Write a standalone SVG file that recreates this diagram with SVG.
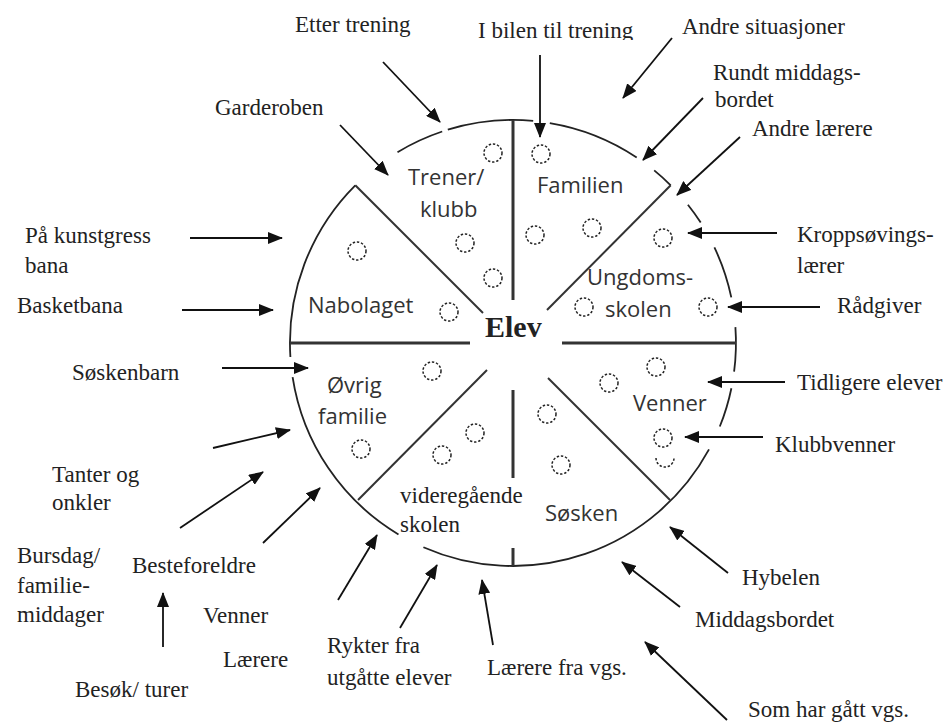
<svg xmlns="http://www.w3.org/2000/svg" width="944" height="722" viewBox="0 0 944 722">
<style>
.c{fill:none;stroke:#222;stroke-width:1.8}
.dv{stroke:#333;stroke-width:3;fill:none}
.dg{stroke:#333;stroke-width:2;fill:none}
.dot{fill:none;stroke:#222;stroke-width:1.5;stroke-dasharray:2.4 1.8}
.ser{font-family:"Liberation Serif","Times New Roman",serif;font-size:23px;fill:#222}
.sans{font-family:"Open Sans","Noto Sans",sans-serif;font-size:22px;fill:#333}
.bold{font-family:"Liberation Serif","Times New Roman",serif;font-size:30px;font-weight:bold;fill:#222}
.arr{stroke:#111;stroke-width:1.8;fill:none;marker-end:url(#ah)}
</style>
<defs>
<marker id="ah" markerWidth="15" markerHeight="12" refX="14" refY="6" orient="auto" markerUnits="userSpaceOnUse">
<path d="M0,0 L15,6 L0,12 z" fill="#111"/>
</marker>
<clipPath id="clipBilen"><rect x="470" y="0" width="190" height="40"/></clipPath>
</defs>
<rect width="944" height="722" fill="#fff"/>

<g id="circle">
<path class="c" d="M709,449.4 A223,223 0 0 1 423.4,547.2"/>
<path class="c" d="M398.5,534.4 A223,223 0 0 1 292.6,377.1"/>
<path class="c" d="M290.4,357 A223,223 0 0 1 355.3,185.3"/>
<path class="c" d="M397.5,152.2 A223,223 0 0 1 442.2,131.5"/>
<path class="c" d="M447.8,129.7 A223,223 0 0 1 533.2,120.9"/>
<path class="c" d="M549.8,123.1 A223,223 0 0 1 636.7,157.5"/>
<path class="c" d="M654.2,170.4 A223,223 0 0 1 670.7,185.3"/>
<path class="c" d="M687.9,204.7 A223,223 0 0 1 700.7,222.5"/>
<path class="c" d="M714.4,247.4 A223,223 0 0 1 731.3,297.4"/>
<path class="c" d="M735.4,327.1 A223,223 0 0 1 734.1,371.7"/>
<path class="c" d="M731.4,388.2 A223,223 0 0 1 719.8,426.5"/>
</g>

<g id="dividers">
<line class="dv" x1="513" y1="120" x2="513" y2="300"/>
<line class="dv" x1="290" y1="343" x2="470" y2="343"/>
<line class="dv" x1="562" y1="343" x2="736" y2="343"/>
<line class="dv" x1="513" y1="390" x2="513" y2="478"/>
<line class="dv" x1="513" y1="548" x2="513" y2="566"/>
<line class="dg" x1="355.3" y1="185.3" x2="483" y2="313"/>
<line class="dg" x1="670.7" y1="185.3" x2="547" y2="310"/>
<line class="dg" x1="358" y1="500" x2="487" y2="370"/>
<line class="dg" x1="670" y1="500" x2="548" y2="378"/>
</g>

<g id="persons">
<circle class="dot" cx="493" cy="153" r="9"/>
<circle class="dot" cx="541" cy="154" r="9"/>
<circle class="dot" cx="465" cy="243" r="9"/>
<circle class="dot" cx="535" cy="235" r="9"/>
<circle class="dot" cx="592" cy="228" r="9"/>
<circle class="dot" cx="663" cy="238" r="9"/>
<circle class="dot" cx="357" cy="251" r="9"/>
<circle class="dot" cx="493" cy="278" r="9"/>
<circle class="dot" cx="449" cy="312" r="9"/>
<circle class="dot" cx="584" cy="307" r="9"/>
<circle class="dot" cx="708" cy="307" r="9"/>
<circle class="dot" cx="432" cy="371" r="9"/>
<circle class="dot" cx="609" cy="383" r="9"/>
<circle class="dot" cx="656" cy="367" r="9"/>
<circle class="dot" cx="547" cy="414" r="9"/>
<circle class="dot" cx="475" cy="433" r="9"/>
<circle class="dot" cx="442" cy="455" r="9"/>
<circle class="dot" cx="361" cy="449" r="9"/>
<circle class="dot" cx="561" cy="465" r="9"/>
<circle class="dot" cx="663" cy="438" r="9"/>
<path class="dot" d="M656,458 A9,9 0 0 0 674,458"/>
</g>

<g id="elev"><text class="bold" x="485" y="337">Elev</text></g>
<g id="trener"><text class="sans" x="408" y="185">Trener/</text><text class="sans" x="420" y="217">klubb</text></g>
<g id="familien"><text class="sans" x="537" y="193">Familien</text></g>
<g id="ungdomsskolen"><text class="sans" x="587" y="285">Ungdoms-</text><text class="sans" x="605" y="317">skolen</text></g>
<g id="nabolaget"><text class="sans" x="308" y="313">Nabolaget</text></g>
<g id="ovrig"><text class="sans" x="327" y="393">Øvrig</text><text class="sans" x="318" y="424">familie</text></g>
<g id="venner"><text class="sans" x="633" y="411">Venner</text></g>
<g id="sosken"><text class="sans" x="545" y="521">Søsken</text></g>
<g id="vgs"><text class="ser" x="400" y="503">videregående</text><text class="ser" x="400" y="532">skolen</text></g>

<g id="labels">
<g id="l-etter"><text class="ser" x="295" y="32">Etter trening</text></g>
<g id="l-bilen"><text class="ser" x="478" y="38" clip-path="url(#clipBilen)">I bilen til trening</text></g>
<g id="l-andre-sit"><text class="ser" x="682" y="34">Andre situasjoner</text></g>
<g id="l-garderoben"><text class="ser" x="215" y="115">Garderoben</text></g>
<g id="l-rundt"><text class="ser" x="713" y="80">Rundt middags-</text><text class="ser" x="715" y="107">bordet</text></g>
<g id="l-andre-laerere"><text class="ser" x="752" y="136">Andre lærere</text></g>
<g id="l-kropps"><text class="ser" x="797" y="242">Kroppsøvings-</text><text class="ser" x="797" y="273">lærer</text></g>
<g id="l-radgiver"><text class="ser" x="837" y="313">Rådgiver</text></g>
<g id="l-tidligere"><text class="ser" x="797" y="390">Tidligere elever</text></g>
<g id="l-klubbvenner"><text class="ser" x="775" y="452">Klubbvenner</text></g>
<g id="l-hybelen"><text class="ser" x="742" y="585">Hybelen</text></g>
<g id="l-middagsbordet"><text class="ser" x="695" y="627">Middagsbordet</text></g>
<g id="l-somhar"><text class="ser" x="748" y="717">Som har gått vgs.</text></g>
<g id="l-laerere-vgs"><text class="ser" x="487" y="675">Lærere fra vgs.</text></g>
<g id="l-rykter"><text class="ser" x="327" y="653">Rykter fra</text><text class="ser" x="327" y="685">utgåtte elever</text></g>
<g id="l-laerere"><text class="ser" x="223" y="667">Lærere</text></g>
<g id="l-venner"><text class="ser" x="203" y="623">Venner</text></g>
<g id="l-besteforeldre"><text class="ser" x="132" y="573">Besteforeldre</text></g>
<g id="l-bursdag"><text class="ser" x="17" y="563">Bursdag/</text><text class="ser" x="17" y="593">familie-</text><text class="ser" x="17" y="622">middager</text></g>
<g id="l-tanter"><text class="ser" x="52" y="482">Tanter og</text><text class="ser" x="52" y="510">onkler</text></g>
<g id="l-besok"><text class="ser" x="75" y="697">Besøk/ turer</text></g>
<g id="l-kunstgress"><text class="ser" x="25" y="243">På kunstgress</text><text class="ser" x="25" y="273">bana</text></g>
<g id="l-basketbana"><text class="ser" x="17" y="313">Basketbana</text></g>
<g id="l-soskenbarn"><text class="ser" x="72" y="380">Søskenbarn</text></g>
</g>

<g id="connectors">
<line class="arr" x1="383" y1="62" x2="440" y2="122"/>
<line class="arr" x1="340" y1="125" x2="388" y2="175"/>
<line class="arr" x1="540" y1="55" x2="540" y2="137"/>
<line class="arr" x1="672" y1="38" x2="623" y2="98"/>
<line class="arr" x1="703" y1="98" x2="643" y2="160"/>
<line class="arr" x1="740" y1="137" x2="677" y2="195"/>
<line class="arr" x1="777" y1="233" x2="688" y2="233"/>
<line class="arr" x1="820" y1="307" x2="728" y2="307"/>
<line class="arr" x1="785" y1="382" x2="708" y2="382"/>
<line class="arr" x1="763" y1="437" x2="685" y2="437"/>
<line class="arr" x1="728" y1="573" x2="670" y2="527"/>
<line class="arr" x1="680" y1="607" x2="622" y2="562"/>
<line class="arr" x1="727" y1="720" x2="645" y2="642"/>
<line class="arr" x1="493" y1="645" x2="482" y2="580"/>
<line class="arr" x1="400" y1="628" x2="437" y2="565"/>
<line class="arr" x1="338" y1="600" x2="377" y2="535"/>
<line class="arr" x1="263" y1="543" x2="320" y2="488"/>
<line class="arr" x1="180" y1="528" x2="263" y2="472"/>
<line class="arr" x1="213" y1="448" x2="290" y2="430"/>
<line class="arr" x1="163" y1="647" x2="163" y2="593"/>
<line class="arr" x1="190" y1="238" x2="282" y2="238"/>
<line class="arr" x1="182" y1="310" x2="273" y2="310"/>
<line class="arr" x1="222" y1="368" x2="308" y2="368"/>
</g>
</svg>
